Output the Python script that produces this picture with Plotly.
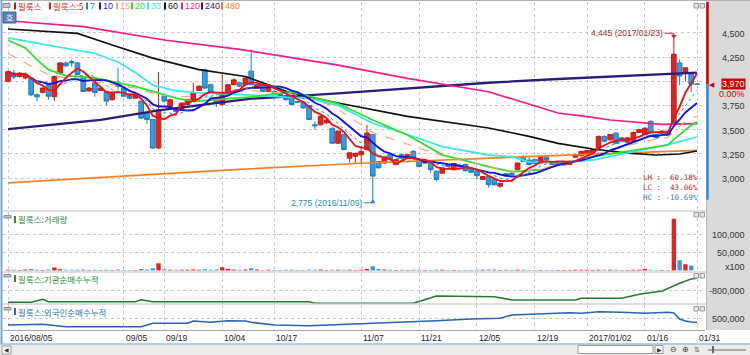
import pandas as pd
import plotly.graph_objects as go

# ---------------- data ----------------
HOLIDAYS = ["2016-08-15", "2016-09-14", "2016-09-15", "2016-09-16", "2016-10-03",
            "2016-12-30", "2017-01-27", "2017-01-30"]
_days = [d for d in pd.bdate_range("2016-08-05", "2017-01-31")
         if d.strftime("%Y-%m-%d") not in HOLIDAYS]
dates = [d.strftime("%Y/%m/%d") for d in _days]

opens = [4000, 4085, 4050, 4035, 4035, 3860, 3885, 3965, 3840, 4085,
         4190, 4205, 4190, 4035, 3900, 3985, 3905, 3895, 3810, 3985,
         3930, 3850, 3825, 3795, 3670, 3605, 3310, 3850, 3740, 3725,
         3715, 3760, 3810, 3905, 4120, 3965, 3825, 3760, 3860, 3965,
         3985, 3965, 4105, 3930, 3965, 3895, 3895, 3870, 3850, 3825,
         3790, 3785, 3750, 3550, 3550, 3570, 3515, 3360, 3450, 3205,
         3225, 3240, 3295, 3450, 3170, 3155, 3240, 3140, 3240, 3225,
         3275, 3190, 3155, 3155, 3070, 3050, 3140, 3085, 3130, 3140,
         3085, 3070, 2985, 3015, 2985, 2915, 3045, 3050, 3085, 3215,
         3185, 3190, 3155, 3225, 3160, 3140, 3135, 3140, 3215, 3230,
         3240, 3260, 3310, 3430, 3395, 3465, 3415, 3370, 3380, 3470,
         3450, 3585, 3450, 3465, 3485, 3565, 4190, 4100, 4075, 3970]
highs = [4110, 4120, 4095, 4090, 4045, 3875, 3940, 3975, 4060, 4200,
         4205, 4225, 4200, 4040, 3940, 3990, 3940, 3900, 3885, 4140,
         3935, 3860, 3870, 3800, 3680, 3610, 4095, 3870, 3820, 3730,
         3780, 3815, 3985, 3955, 4130, 3970, 3835, 4070, 3975, 4030,
         3990, 4040, 4330, 3975, 3970, 3955, 3905, 3880, 3860, 3830,
         3800, 3790, 3755, 3585, 3645, 3610, 3520, 3490, 3455, 3265,
         3260, 3330, 3550, 3455, 3175, 3210, 3245, 3195, 3250, 3245,
         3290, 3195, 3180, 3160, 3075, 3110, 3145, 3150, 3140, 3150,
         3095, 3075, 3020, 3020, 2990, 2950, 3050, 3060, 3160, 3235,
         3225, 3200, 3220, 3230, 3170, 3160, 3170, 3180, 3250, 3280,
         3290, 3300, 3440, 3440, 3455, 3470, 3420, 3420, 3480, 3510,
         3525, 3600, 3455, 3490, 3495, 4445, 4225, 4140, 4080, 3970]
lows = [3990, 4025, 4040, 4020, 3845, 3795, 3875, 3810, 3795, 4070,
        4150, 4150, 4060, 3890, 3895, 3840, 3900, 3750, 3800, 3915,
        3840, 3810, 3820, 3610, 3560, 3300, 3300, 3780, 3730, 3680,
        3700, 3750, 3800, 3900, 3925, 3870, 3735, 3750, 3855, 3960,
        3940, 3960, 3960, 3920, 3890, 3890, 3855, 3840, 3800, 3750,
        3775, 3715, 3600, 3500, 3545, 3560, 3355, 3350, 3285, 3160,
        3150, 3140, 3280, 2775, 3100, 3150, 3185, 3135, 3200, 3215,
        3200, 3110, 3150, 3050, 2965, 3045, 3115, 3080, 3110, 3065,
        3050, 2985, 2980, 2900, 2925, 2900, 3010, 3025, 3080, 3165,
        3130, 3140, 3150, 3185, 3135, 3130, 3130, 3135, 3210, 3225,
        3235, 3255, 3300, 3370, 3390, 3355, 3370, 3365, 3375, 3465,
        3440, 3460, 3405, 3455, 3445, 3555, 3960, 4000, 3890, 3970]
closes = [4100, 4045, 4085, 4070, 3860, 3840, 3930, 3845, 4050, 4190,
          4160, 4190, 4070, 3895, 3930, 3885, 3930, 3795, 3880, 3950,
          3845, 3825, 3860, 3620, 3605, 3310, 3705, 3795, 3810, 3690,
          3775, 3810, 3880, 3950, 3930, 3880, 3775, 3860, 3965, 4015,
          3950, 4035, 3965, 3965, 3895, 3950, 3860, 3850, 3810, 3760,
          3785, 3725, 3605, 3540, 3640, 3600, 3360, 3485, 3295, 3260,
          3255, 3275, 3465, 3020, 3105, 3205, 3190, 3190, 3205, 3240,
          3205, 3120, 3175, 3085, 2985, 3105, 3120, 3150, 3115, 3075,
          3060, 3025, 3015, 2930, 2930, 2945, 3020, 3030, 3155, 3170,
          3140, 3150, 3215, 3190, 3140, 3155, 3160, 3175, 3240, 3275,
          3285, 3295, 3430, 3380, 3450, 3360, 3380, 3415, 3470, 3500,
          3515, 3465, 3415, 3485, 3450, 4280, 4055, 4140, 3970, 3970]
# volume in units of 100 shares
volume = [2200, 1800, 1500, 2600, 4200, 2000, 1600, 2400, 8000, 3500,
          2000, 1800, 2200, 2500, 1500, 2000, 1400, 1900, 1600, 2800,
          1700, 1500, 1600, 3800, 2600, 6000, 20000, 3500, 2200, 1800,
          2000, 2300, 2600, 2200, 3600, 2200, 2400, 9000, 4500, 2600,
          1800, 2400, 6500, 2600, 1700, 2000, 1600, 1500, 1800, 2100,
          1400, 1700, 2600, 2200, 2400, 1500, 2300, 1900, 2100, 2000,
          1700, 2300, 4200, 11500, 4000, 2500, 1800, 1600, 1900, 1400,
          1800, 1900, 1300, 1700, 2100, 1800, 1300, 1500, 1200, 1500,
          1600, 1900, 1800, 2600, 3000, 1700, 2000, 1600, 2200, 1900,
          1500, 1600, 1700, 1400, 1300, 1500, 1600, 1700, 2000, 1800,
          1900, 1700, 2300, 1800, 1900, 2100, 1500, 1600, 2000, 1900,
          3800, 2200, 1600, 1500, 1400, 142000, 28000, 17000, 14000, 0]

# moving averages (trading-day index -> price)
ma15_at = [0, 4, 7, 10, 16, 22, 26, 30, 35, 42, 49, 56, 63, 69, 75, 83, 87, 92, 101, 110, 114, 115, 116, 117, 118, 119]
ma15 = [4290, 4155, 4070, 4034, 3985, 3930, 3860, 3840, 3860, 3905, 3870, 3750, 3470, 3350, 3230, 3120, 3060, 3090, 3240, 3380, 3420, 3480, 3530, 3585, 3615, 3640]
ma20_at = [0, 3, 5, 7, 10, 15, 22, 25, 29, 32, 36, 42, 49, 57, 63, 69, 75, 83, 87, 92, 101, 110, 114, 115, 116, 117, 118, 119]
ma20 = [4424, 4345, 4224, 4121, 4058, 4034, 3948, 3896, 3827, 3793, 3810, 3838, 3890, 3770, 3600, 3445, 3240, 3117, 3065, 3083, 3220, 3307, 3341, 3400, 3450, 3505, 3545, 3582]
ma33_at = [0, 6, 11, 15, 19, 22, 25, 29, 33, 38, 42, 52, 57, 63, 69, 75, 83, 87, 90, 95, 101, 110, 114, 119]
ma33 = [4448, 4380, 4330, 4290, 4200, 4090, 3960, 3900, 3880, 3870, 3858, 3824, 3750, 3566, 3450, 3324, 3238, 3220, 3165, 3160, 3186, 3300, 3345, 3424]
ma60_at = [0, 6, 12, 18, 25, 33, 41, 49, 57, 69, 83, 90, 95, 101, 107, 112, 116, 119]
ma60 = [4541, 4520, 4496, 4375, 4240, 4121, 4050, 3876, 3776, 3638, 3517, 3431, 3358, 3300, 3257, 3238, 3248, 3279]
ma120_at = [0, 13, 27, 40, 57, 69, 83, 95, 100, 104, 113, 119]
ma120 = [4626, 4566, 4427, 4331, 4168, 4031, 3892, 3672, 3634, 3600, 3555, 3562]
ma240_at = [0, 16, 26, 42, 57, 69, 83, 95, 114, 119]
ma240 = [3505, 3600, 3700, 3820, 3875, 3928, 3985, 4024, 4075, 4089]
ma480_at = [0, 20, 40, 60, 80, 100, 119]
ma480 = [2950, 3020, 3090, 3150, 3200, 3245, 3286]

# cumulative net buying
inst_at = [0, 4, 6, 7, 22, 23, 25, 52, 53, 70, 74, 84, 87, 98, 99, 106, 109, 112, 113, 116, 118, 119]
inst = [-1042000, -1042000, -983000, -1030000, -1030000, -991000, -1030000, -1030000, -1062000, -1062000,
        -918000, -932000, -997000, -997000, -963000, -963000, -885000, -845000, -820000, -668000, -584000, -570000]
frgn_at = [0, 6, 10, 23, 25, 31, 32, 35, 38, 41, 42, 46, 52, 60, 64, 68, 74, 80, 85, 87, 90, 97, 99, 102, 106, 110, 114, 115, 116, 117, 118, 119]
frgn = [388000, 399000, 361000, 361000, 415000, 415000, 452000, 431000, 457000, 452000, 431000, 388000, 377000, 404000, 425000, 441000,
        457000, 484000, 495000, 548000, 559000, 585000, 575000, 601000, 591000, 575000, 591000, 580000, 484000, 452000, 436000, 431000]

grid_dates = ["2016/08/05", "2016/09/05", "2016/09/19", "2016/10/04", "2016/10/17", "2016/11/07",
              "2016/11/21", "2016/12/05", "2016/12/19", "2017/01/02", "2017/01/16", "2017/01/31"]
tick_labels = ["2016/08/05", "09/05", "09/19", "10/04", "10/17", "11/07",
               "11/21", "12/05", "12/19", "2017/01/02", "01/16", "01/31"]
price_ticks = [3000, 3250, 3500, 3750, 4000, 4250, 4500]
vol_ticks = [50000, 100000]
inst_ticks = [-800000]
frgn_ticks = [500000]

stock = "필룩스"

# ---------------- styling ----------------
W, H = 750, 355
def px(x): return x / W
def py(y): return 1 - y / H

UP, UP_L = "#e3241c", "#c81e16"
DN, DN_L = "#3c9be0", "#1d7cc4"
NUMFONT = "Liberation Sans, Arial, sans-serif"
KFONT = "Noto Sans CJK KR, sans-serif"
MONO = "DejaVu Sans Mono, monospace"
GRID = "#c9c9c9"

ma_style = {5: ("#e8141b", 1.9, "solid"), 7: ("#1a9a9a", 1.0, "dot"), 10: ("#1414dc", 1.9, "solid"),
            15: ("#f4a07a", 1.1, "dash"), 20: ("#2ee02e", 1.8, "solid"), 33: ("#3de4f2", 1.8, "solid"),
            60: ("#111111", 1.7, "solid"), 120: ("#ec1c8c", 1.7, "solid"), 240: ("#2c1c78", 2.3, "solid"),
            480: ("#f58220", 1.7, "solid")}

fig = go.Figure()

fig.add_trace(go.Candlestick(
    x=dates, open=opens, high=highs, low=lows, close=closes, xaxis="x", yaxis="y",
    increasing=dict(line=dict(color=UP_L, width=1), fillcolor=UP),
    decreasing=dict(line=dict(color=DN_L, width=1), fillcolor=DN),
    whiskerwidth=0, showlegend=False, hoverinfo="skip"))

cs = pd.Series(closes)
computed = {n: cs.rolling(n, min_periods=1).mean().tolist() for n in (5, 7, 10)}
read = {15: (ma15_at, ma15), 20: (ma20_at, ma20), 33: (ma33_at, ma33), 60: (ma60_at, ma60),
        120: (ma120_at, ma120), 240: (ma240_at, ma240), 480: (ma480_at, ma480)}
for n in [480, 240, 120, 60, 33, 20, 15, 10, 7, 5]:
    c, w, d = ma_style[n]
    if n in computed:
        xs, ys = dates, computed[n]
    else:
        at, vals = read[n]
        xs, ys = [dates[i] for i in at], vals
    fig.add_trace(go.Scatter(x=xs, y=ys, mode="lines", line=dict(color=c, width=w, dash=d),
                             xaxis="x", yaxis="y", showlegend=False, hoverinfo="skip"))

vcolors = [UP if c >= o else DN for o, c in zip(opens, closes)]
fig.add_trace(go.Bar(x=dates, y=volume, marker=dict(color=vcolors, line=dict(width=0)), width=0.75,
                     xaxis="x2", yaxis="y2", showlegend=False, hoverinfo="skip"))
fig.add_trace(go.Scatter(x=[dates[i] for i in inst_at], y=inst, mode="lines",
                         line=dict(color="#2a7a32", width=1.6), xaxis="x3", yaxis="y3",
                         showlegend=False, hoverinfo="skip"))
fig.add_trace(go.Scatter(x=[dates[i] for i in frgn_at], y=frgn, mode="lines",
                         line=dict(color="#2a62b4", width=1.6), xaxis="x4", yaxis="y4",
                         showlegend=False, hoverinfo="skip"))

# ---------------- axes ----------------
spacing = 5.79
x0px, x1px = 3, 705
xr = [-(8 - x0px) / spacing, -(8 - x0px) / spacing + (x1px - x0px) / spacing]
xcommon = dict(type="category", range=xr, domain=[px(x0px), px(x1px)], showticklabels=False,
               tickmode="array", tickvals=grid_dates, showgrid=True, gridcolor=GRID, griddash="dot",
               gridwidth=1, zeroline=False, showline=False, ticks="", fixedrange=True)

main_top, main_bot = 2, 210
def pprice(y): return 3000 + (178 - y) / 0.0967
ymain = [pprice(main_bot), pprice(main_top)]
vol_top, vol_bot = 212, 271.5
vol_px = 18.25 / 50000
yvol = [-(vol_bot - 270.5) / vol_px, (270.5 - vol_top) / vol_px]
inst_top, inst_bot = 273, 303.5
yinst = [-1065574, -465574]
fr_top, fr_bot = 305, 330
yfr = [308000, 708000]

ycommon = dict(showticklabels=False, showgrid=True, gridcolor=GRID, griddash="dot", gridwidth=1,
               zeroline=False, ticks="", fixedrange=True, side="right")

fig.update_layout(
    width=W, height=H, margin=dict(l=0, r=0, t=0, b=0),
    paper_bgcolor="white", plot_bgcolor="white", showlegend=False, hovermode=False,
    boxgap=0.2, boxgroupgap=0,
    xaxis=dict(xcommon, anchor="y", rangeslider=dict(visible=False)),
    xaxis2=dict(xcommon, anchor="y2", matches="x"),
    xaxis3=dict(xcommon, anchor="y3", matches="x"),
    xaxis4=dict(xcommon, anchor="y4", matches="x", showline=True, linecolor="#a8a8a8", linewidth=1),
    yaxis=dict(ycommon, domain=[py(main_bot), py(main_top)], range=ymain, tickvals=price_ticks, anchor="x"),
    yaxis2=dict(ycommon, domain=[py(vol_bot), py(vol_top)], range=yvol, tickvals=vol_ticks, anchor="x2"),
    yaxis3=dict(ycommon, domain=[py(inst_bot), py(inst_top)], range=yinst, tickvals=inst_ticks, anchor="x3"),
    yaxis4=dict(ycommon, domain=[py(fr_bot), py(fr_top)], range=yfr, tickvals=frgn_ticks, anchor="x4"),
)

shapes, ann = [], []
def rect(x0, y0, x1, y1, fill, line=None, lw=0, layer="below"):
    shapes.append(dict(type="rect", xref="paper", yref="paper", x0=px(x0), x1=px(x1), y0=py(y0), y1=py(y1),
                       fillcolor=fill, line=dict(color=line or fill, width=lw), layer=layer))
def hline(x0, x1, y, color, w=1, layer="below"):
    shapes.append(dict(type="line", xref="paper", yref="paper", x0=px(x0), x1=px(x1), y0=py(y), y1=py(y),
                       line=dict(color=color, width=w), layer=layer))
def text(x, y, s, color="#222", size=9, font=NUMFONT, xanchor="left", **kw):
    ann.append(dict(xref="paper", yref="paper", x=px(x), y=py(y), text=s, showarrow=False,
                    xanchor=xanchor, yanchor="middle", borderpad=0,
                    font=dict(color=color, size=size, family=font), **kw))

# right axis panel and frame
rect(707, 0, 750, 330, "#dadada")
shapes.append(dict(type="line", xref="paper", yref="paper", x0=px(706.5), x1=px(706.5), y0=py(330), y1=py(0),
                   line=dict(color="#b8b8b8", width=1), layer="below"))
shapes.append(dict(type="line", xref="paper", yref="paper", x0=px(1.5), x1=px(1.5), y0=py(344), y1=py(0),
                   line=dict(color="#7ea2cf", width=2), layer="above"))
hline(0, 750, 0.5, "#b0b0b0")
for yy in (211, 272, 304):
    hline(3, 707, yy, "#bdbdbd", layer="above")

# bottom scroll bar
rect(0, 344, 750, 355, "#ececec")
hline(0, 750, 344, "#9fbbdc", 1.5, layer="above")
rect(2, 346, 11, 354, "#f8f8f8", "#9a9a9a", 1, layer="above")
text(6.5, 350, "◀", "#333", 6, xanchor="center")
rect(578, 345.5, 653, 353.5, "white", "#9a9a9a", 1, layer="above")
rect(655, 345.5, 663, 353.5, "#f8f8f8", "#9a9a9a", 1, layer="above")
text(659, 349.5, "▶", "#333", 6, xanchor="center")
text(673, 349.5, "⊖", "#333", 8, xanchor="center")
text(685, 349.5, "⊕", "#333", 8, xanchor="center")
text(697, 349.5, "⇅", "#555", 7, xanchor="center")
hline(708, 746, 350, "#666")
rect(712, 346, 714, 353, "#666", layer="above")

# current-price bar on right edge
cur = closes[-1]
prev = closes[-2]
shapes.append(dict(type="line", xref="paper", yref="y", x0=px(707.5), x1=px(707.5), y0=cur, y1=ymain[1],
                   line=dict(color="#d40000", width=2.5), layer="above"))
shapes.append(dict(type="line", xref="paper", yref="y", x0=px(707.5), x1=px(707.5), y0=min(lows), y1=cur,
                   line=dict(color="#2f8fd6", width=2.5), layer="above"))

# right-axis labels
LBL = dict(color="#333", size=9, family=NUMFONT)
def axlabels(ticks, yref, skip=None):
    for t in ticks:
        if skip is not None and abs(t - skip) < 60:
            continue
        ann.append(dict(xref="paper", yref=yref, x=px(746), y=t, text=f"{t:,}", showarrow=False,
                        xanchor="right", yanchor="middle", yshift=-1, borderpad=0, font=LBL))
axlabels(price_ticks, "y", skip=cur)
axlabels(vol_ticks, "y2")
axlabels(inst_ticks, "y3")
axlabels(frgn_ticks, "y4")
ann.append(dict(xref="paper", yref="y2", x=px(746), y=0, text="x100", showarrow=False, xanchor="right",
                yanchor="middle", yshift=4, borderpad=0, font=LBL))
ann.append(dict(xref="paper", yref="y", x=px(746), y=cur, text=f"{cur:,}", showarrow=False,
                xanchor="right", yanchor="middle", bgcolor="#d40000", borderpad=0,
                font=dict(color="white", size=9, family=NUMFONT)))
chg = (cur - prev) / prev * 100
ann.append(dict(xref="paper", yref="y", x=px(746), y=cur, yshift=-10, text=f"{chg:.2f}%", showarrow=False,
                xanchor="right", yanchor="middle", borderpad=0, font=dict(color="#d40000", size=9, family=NUMFONT)))
ann.append(dict(xref="paper", yref="y", x=px(712), y=cur, text="◀", showarrow=False, xanchor="center",
                yanchor="middle", borderpad=0, font=dict(color="#d40000", size=7)))

# x-axis date labels (left-aligned at grid lines)
for d, lab in zip(grid_dates, tick_labels):
    ann.append(dict(xref="x4", yref="paper", x=d, y=py(337.5), text=lab, showarrow=False, xanchor="left",
                    yanchor="middle", xshift=1, borderpad=0, font=dict(color="#222", size=8.5, family=NUMFONT)))

# high / low markers
hi_i = max(range(len(highs)), key=lambda i: highs[i])
lo_i = min(range(len(lows)), key=lambda i: lows[i])
HI_C, LO_C = "#c0282d", "#2f86c6"
ann.append(dict(xref="x", yref="y", x=dates[hi_i], y=highs[hi_i], xshift=-10, yshift=5,
                text=f"{highs[hi_i]:,} ({dates[hi_i]})", showarrow=False, xanchor="right", yanchor="middle",
                borderpad=0, font=dict(color=HI_C, size=8.5, family=NUMFONT)))
shapes.append(dict(type="path", xref="x", yref="y", xsizemode="pixel", ysizemode="pixel",
                   xanchor=hi_i, yanchor=highs[hi_i], path="M -9,5 L 0,5 L 0,1",
                   line=dict(color=HI_C, width=1), layer="above"))
shapes.append(dict(type="path", xref="x", yref="y", xsizemode="pixel", ysizemode="pixel",
                   xanchor=hi_i, yanchor=highs[hi_i], path="M -2,3 L 2,3 L 0,0 Z",
                   fillcolor=HI_C, line=dict(color=HI_C, width=1), layer="above"))
ann.append(dict(xref="x", yref="y", x=dates[lo_i], y=lows[lo_i], xshift=-10, yshift=-3,
                text=f"{lows[lo_i]:,} ({dates[lo_i]})", showarrow=False, xanchor="right", yanchor="middle",
                borderpad=0, font=dict(color=LO_C, size=8.5, family=NUMFONT)))
shapes.append(dict(type="path", xref="x", yref="y", xsizemode="pixel", ysizemode="pixel",
                   xanchor=lo_i, yanchor=lows[lo_i], path="M -9,-3 L 0,-3 L 0,-1",
                   line=dict(color=LO_C, width=1), layer="above"))
shapes.append(dict(type="path", xref="x", yref="y", xsizemode="pixel", ysizemode="pixel",
                   xanchor=lo_i, yanchor=lows[lo_i], path="M -2,-3 L 2,-3 L 0,0 Z",
                   fillcolor=LO_C, line=dict(color=LO_C, width=1), layer="above"))

# LH / LC / HC statistics (one block, three lines)
H_, L_ = highs[hi_i], lows[lo_i]
stats = [("LH", (H_ - L_) / L_ * 100, HI_C), ("LC", (cur - L_) / L_ * 100, HI_C), ("HC", (cur - H_) / H_ * 100, LO_C)]
block = "<br>".join(f'<span style="color:{c}">' + f"{name} : {v:6.2f}%".replace(" ", "&nbsp;") + "</span>"
                    for name, v, c in stats)
text(699, 187, block, HI_C, 7.5, MONO, xanchor="right", align="right")

# top legend
rect(3, 3.5, 10, 7.5, "#c4c4c4", "#8c8c8c", 1, layer="above")
legend_items = [("필룩스", "#c8161d", 14), ("필룩스:5", ma_style[5][0], 49)] + \
    [(str(n), ma_style[n][0], x) for n, x in zip([7, 10, 15, 20, 33, 60, 120, 240, 480],
                                                   [86, 99, 116, 131, 147, 164, 181, 201, 221])]
for lab, col, x in legend_items:
    rect(x, 2.5, x + 2, 9.5, col, layer="above")
    text(x + 2.5, 6, lab, col, 8.5 if not lab.isdigit() else 9, KFONT if not lab.isdigit() else NUMFONT)
# "호" button
rect(3, 12, 16, 23, "#5b84b4", "#3d628f", 1, layer="above")
text(9.5, 17.5, "호", "white", 8, KFONT, xanchor="center")

# pane captions
panes = [("거래량", "#2e8a3a", 219.5), ("기관순매수누적", "#2e8a3a", 278.5), ("외국인순매수누적", "#2f6cc0", 311.5)]
for lab, col, y in panes:
    rect(4, y - 4, 11, y - 1.5, "#c4c4c4", "#8c8c8c", 1, layer="above")
    rect(14, y - 3.5, 16, y + 3.5, col, layer="above")
    text(17, y, f"{stock}:{lab}", col, 8.5, KFONT)

# small pane buttons
for y in (6, 215, 276, 309):
    rect(694, y - 2.5, 698.5, y + 2, "#e6e6e6", "#9a9a9a", 1, layer="above")
    rect(700, y - 2.5, 704.5, y + 2, "#e6e6e6", "#9a9a9a", 1, layer="above")

fig.update_layout(shapes=shapes, annotations=ann)
fig.write_html("out.html", config={"displayModeBar": False, "staticPlot": True},
               post_script="document.body.style.margin='0';document.body.style.padding='0';"
                           "document.body.style.overflow='hidden';")
